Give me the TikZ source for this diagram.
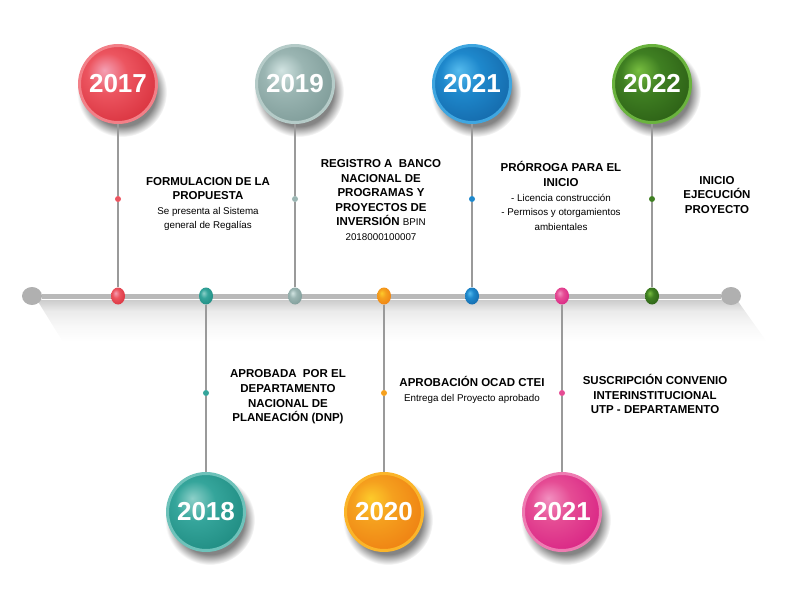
\documentclass[tikz,border=0pt]{standalone}
\usepackage{fontspec}
\setmainfont{Liberation Sans}
\usetikzlibrary{positioning}
\usetikzlibrary{shapes.geometric}

\definecolor{balltop}{HTML}{FFFFFF}
\definecolor{ballmid}{HTML}{999999}
\definecolor{balldark}{HTML}{666666}
\definecolor{ballrim}{HTML}{BBBBBB}
\definecolor{stemgray}{HTML}{9A9A9A}
\definecolor{bargray}{HTML}{B9B9B9}

\pgfdeclareradialshading[balltop,ballmid,balldark]{yearball}{\pgfpoint{-9bp}{9bp}}{color(0bp)=(balltop); color(13bp)=(ballmid); color(34bp)=(balldark); color(60bp)=(balldark)}
\pgfdeclareradialshading{ballshade}{\pgfpointorigin}{color(0bp)=(black!55); color(19bp)=(black!48); color(25bp)=(white); color(50bp)=(white)}
\pgfdeclarehorizontalshading{barshade}{100bp}{color(0bp)=(white); color(25bp)=(white); color(45bp)=(black!3); color(62bp)=(black!8); color(75bp)=(black!20); color(100bp)=(black!20)}

\newcommand\notefont{\fontsize{9.8}{14.6}\selectfont\mdseries}

\tikzset{
  palette/.style n args={4}{/utils/exec={\definecolor{balltop}{HTML}{#1}\definecolor{ballmid}{HTML}{#2}\definecolor{balldark}{HTML}{#3}\definecolor{ballrim}{HTML}{#4}}},
  yearcircle/.style={circle,shading=yearball,draw=ballrim,line width=3pt,minimum size=77pt,inner sep=0pt,text=white,font=\fontsize{26}{26}\selectfont\bfseries},
  linedot/.style={ellipse,shading=yearball,minimum width=14pt,minimum height=17pt,inner sep=0pt},
  stemdot/.style={circle,fill=ballmid,minimum size=6pt,inner sep=0pt},
  stem/.style={draw=stemgray,line width=1.5pt},
  milestone/.style={align=center,inner sep=0pt,font=\fontsize{11.5}{14.6}\selectfont\bfseries}
}

\begin{document}
\begin{tikzpicture}[x=1pt,y=-1pt]
\useasboundingbox (0,0) rectangle (792,612);

\shade[shading=barshade,shading angle=90] (37,300) -- (737,300) -- (767,342) -- (63,342) -- cycle;

\shade[shading=ballshade] (122,92) circle (45);
\shade[shading=ballshade] (299,92) circle (45);
\shade[shading=ballshade] (476,92) circle (45);
\shade[shading=ballshade] (656,92) circle (45);
\shade[shading=ballshade] (210,520) circle (45);
\shade[shading=ballshade] (388,520) circle (45);
\shade[shading=ballshade] (566,520) circle (45);

\node[ellipse,fill=bargray!95!black,minimum width=20pt,minimum height=18pt,inner sep=0pt] (lend) at (32,296) {};
\node[ellipse,fill=bargray!95!black,minimum width=20pt,minimum height=18pt,inner sep=0pt] (rend) at (731,296) {};
\draw[bargray,line width=5pt] (lend) -- (rend);

\node[palette={F4A0B4}{EC5560}{D8303C}{F28088},linedot] (t17) at (118,296) {};
\node[palette={8DD0C9}{35A59B}{1E8A80}{6EC2BA},linedot] (t18) at (206,296) {};
\node[palette={D2E4E2}{9AB5B2}{7D9A97}{B5CBC8},linedot] (t19) at (295,296) {};
\node[palette={FDCB2B}{F5A01E}{EE7E12}{FBB52A},linedot] (t20) at (384,296) {};
\node[palette={55BBEE}{1E88CC}{1467A8}{3FA6E0},linedot] (t21a) at (472,296) {};
\node[palette={F290C0}{E54C94}{D82183}{EE7CB2},linedot] (t21b) at (562,296) {};
\node[palette={78BE40}{3F7F22}{2B5E15}{6AB33E},linedot] (t22) at (652,296) {};

\node[palette={F4A0B4}{EC5560}{D8303C}{F28088},stemdot] (d17) at (118,199) {};
\node[palette={8DD0C9}{35A59B}{1E8A80}{6EC2BA},stemdot] (d18) at (206,393) {};
\node[palette={D2E4E2}{9AB5B2}{7D9A97}{B5CBC8},stemdot] (d19) at (295,199) {};
\node[palette={FDCB2B}{F5A01E}{EE7E12}{FBB52A},stemdot] (d20) at (384,393) {};
\node[palette={55BBEE}{1E88CC}{1467A8}{3FA6E0},stemdot] (d21a) at (472,199) {};
\node[palette={F290C0}{E54C94}{D82183}{EE7CB2},stemdot] (d21b) at (562,393) {};
\node[palette={78BE40}{3F7F22}{2B5E15}{6AB33E},stemdot] (d22) at (652,199) {};

\node[palette={F4A0B4}{EC5560}{D8303C}{F28088},yearcircle] (y17) at (118,84) {2017};
\node[palette={8DD0C9}{35A59B}{1E8A80}{6EC2BA},yearcircle] (y18) at (206,512) {2018};
\node[palette={D2E4E2}{9AB5B2}{7D9A97}{B5CBC8},yearcircle] (y19) at (295,84) {2019};
\node[palette={FDCB2B}{F5A01E}{EE7E12}{FBB52A},yearcircle] (y20) at (384,512) {2020};
\node[palette={55BBEE}{1E88CC}{1467A8}{3FA6E0},yearcircle] (y21a) at (472,84) {2021};
\node[palette={F290C0}{E54C94}{D82183}{EE7CB2},yearcircle] (y21b) at (562,512) {2021};
\node[palette={78BE40}{3F7F22}{2B5E15}{6AB33E},yearcircle] (y22) at (652,84) {2022};

\draw[stem] (y17) -- (d17) -- (t17);
\draw[stem] (y19) -- (d19) -- (t19);
\draw[stem] (y21a) -- (d21a) -- (t21a);
\draw[stem] (y22) -- (d22) -- (t22);
\draw[stem] (t18) -- (d18) -- (y18);
\draw[stem] (t20) -- (d20) -- (y20);
\draw[stem] (t21b) -- (d21b) -- (y21b);

\node[milestone] (m17) at (208,204) {FORMULACION DE LA\\PROPUESTA\\{\notefont Se presenta al Sistema}\\{\notefont general de Regalías}};
\node[milestone] (m19) at (381,200) {REGISTRO A\ \ BANCO\\NACIONAL DE\\PROGRAMAS Y\\PROYECTOS DE\\INVERSIÓN {\notefont BPIN}\\{\notefont 2018000100007}};
\node[milestone] (m21a) at (561,196) {PRÓRROGA PARA EL\\INICIO\\{\notefont - Licencia construcción}\\{\notefont - Permisos y otorgamientos}\\{\notefont ambientales}};
\node[milestone] (m22) at (717,195) {INICIO\\EJECUCIÓN\\PROYECTO};
\node[milestone] (m18) at (288,397) {APROBADA\ \ POR EL\\DEPARTAMENTO\\NACIONAL DE\\PLANEACIÓN (DNP)};
\node[milestone] (m20) at (472,390) {APROBACIÓN OCAD CTEI\\{\notefont Entrega del Proyecto aprobado}};
\node[milestone] (m21b) at (655,394) {SUSCRIPCIÓN CONVENIO\\INTERINSTITUCIONAL\\UTP - DEPARTAMENTO};

\end{tikzpicture}
\end{document}
